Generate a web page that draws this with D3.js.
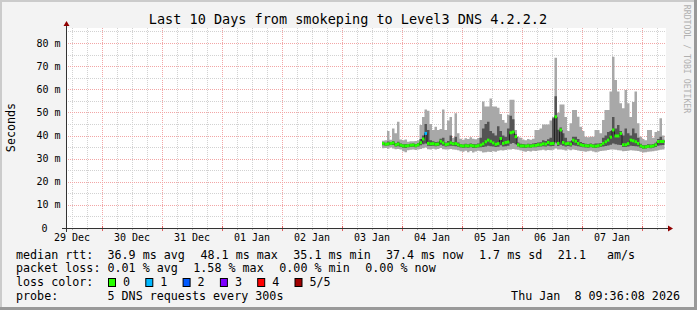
<!DOCTYPE html>
<html>
<head>
<meta charset="utf-8">
<script src="https://cdn.jsdelivr.net/npm/d3@7"></script>
<style>
  body { margin: 0; background: #f3f3f3; }
  svg text { font-family: "DejaVu Sans Mono", monospace; fill: #000; white-space: pre; }
</style>
</head>
<body>
<div id="chart"></div>
<script>
// smokeping style 10 day graph, one value per hour starting 03 Jan 16:00
var dataStart = Date.UTC(2026, 0, 3, 16, 0, 0);
var STEP = 3600 * 1000;

// ping values in ms, sorted: lowest, 2nd, median, 4th, highest
var pingMax = [37.7, 38.0, 42.0, 38.2, 43.0, 41.0, 46.0, 38.3, 38.0, 38.3,
  37.3, 37.5, 37.5, 37.6, 38.0, 44.5, 48.0, 51.3, 50.7, 45.0,
  42.4, 43.8, 42.4, 42.8, 51.3, 42.4, 46.5, 48.0, 39.0, 49.6,
  41.0, 38.6, 38.2, 38.8, 38.5, 39.2, 38.6, 38.4, 38.9, 46.7,
  54.7, 52.5, 52.5, 56.0, 52.5, 52.5, 52.0, 49.3, 46.7, 45.5,
  49.0, 55.5, 55.5, 42.4, 39.5, 39.0, 38.3, 38.0, 38.5, 38.2,
  38.6, 42.4, 42.4, 43.0, 44.8, 44.8, 44.8, 46.5, 48.0, 73.6,
  49.8, 53.4, 53.4, 48.0, 42.0, 45.3, 51.0, 51.0, 48.1, 43.8,
  42.0, 39.5, 39.3, 39.5, 39.5, 42.4, 42.4, 41.0, 46.7, 51.0,
  51.0, 59.0, 74.1, 64.0, 59.0, 54.0, 51.8, 59.7, 54.0, 48.0,
  54.5, 59.0, 45.3, 39.5, 38.5, 38.0, 42.4, 42.4, 39.0, 41.5,
  42.0, 47.5, 40.0];
var pingHi = [37.0, 36.9, 37.4, 37.2, 37.6, 36.8, 37.3, 36.5, 36.2, 36.3,
  36.2, 36.4, 36.6, 36.3, 36.8, 38.5, 40.0, 45.0, 42.4, 38.0,
  37.5, 37.2, 37.3, 38.6, 39.0, 37.0, 37.6, 40.0, 37.2, 39.5,
  37.0, 36.3, 36.1, 36.4, 36.2, 36.6, 36.3, 36.2, 36.5, 39.0,
  43.0, 45.0, 46.0, 42.0, 41.0, 40.0, 44.0, 42.0, 40.0, 39.5,
  43.0, 48.5, 47.0, 40.5, 37.0, 36.4, 36.3, 36.1, 36.4, 36.2,
  36.5, 36.8, 37.0, 37.1, 38.0, 37.6, 38.4, 39.0, 47.5, 57.0,
  42.5, 43.5, 41.0, 39.0, 37.4, 37.5, 39.5, 39.5, 38.5, 37.2,
  36.8, 36.4, 36.3, 36.5, 36.2, 36.5, 36.6, 36.8, 39.0, 40.0,
  41.5, 42.0, 48.0, 43.0, 44.5, 42.0, 40.0, 43.0, 41.0, 40.0,
  43.0, 41.0, 39.0, 36.4, 35.8, 35.9, 36.2, 36.1, 36.3, 36.9,
  38.5, 39.5, 38.2];
var median = [36.6, 36.2, 36.4, 36.6, 36.8, 36.0, 36.3, 35.8, 35.5, 35.5,
  35.6, 35.8, 35.9, 35.6, 36.0, 36.9, 38.5, 40.9, 36.6, 36.4,
  36.5, 36.2, 36.3, 37.5, 36.8, 36.1, 36.3, 36.8, 36.4, 36.5,
  36.0, 35.6, 35.4, 35.6, 35.5, 35.7, 35.5, 35.4, 35.6, 35.9,
  36.4, 37.3, 38.0, 37.5, 36.8, 36.2, 36.5, 38.7, 36.6, 37.0,
  37.2, 41.2, 41.5, 39.5, 36.0, 35.5, 35.5, 35.4, 35.6, 35.4,
  35.6, 35.7, 36.0, 36.0, 36.4, 36.3, 37.0, 36.5, 36.6, 48.1,
  36.6, 42.4, 37.0, 36.4, 36.6, 36.3, 38.0, 37.5, 36.6, 36.0,
  35.7, 35.6, 35.5, 35.7, 35.4, 35.4, 35.6, 35.9, 36.6, 37.3,
  38.0, 39.3, 42.4, 39.8, 39.8, 40.9, 36.0, 36.0, 36.5, 38.0,
  37.7, 37.3, 36.6, 35.5, 35.0, 35.1, 35.3, 35.3, 35.5, 36.0,
  37.4, 37.4, 37.4];
var pingLo = [35.8, 35.6, 35.7, 35.9, 35.9, 35.3, 35.4, 35.0, 34.7, 34.6,
  34.9, 35.0, 35.1, 34.9, 35.2, 35.8, 36.2, 36.5, 35.6, 35.5,
  35.6, 35.4, 35.5, 36.0, 35.6, 35.3, 35.4, 35.6, 35.5, 35.4,
  35.1, 34.8, 34.6, 34.8, 34.7, 34.9, 34.6, 34.6, 34.8, 34.9,
  35.0, 35.3, 35.6, 35.4, 35.2, 35.0, 35.1, 35.8, 35.3, 35.4,
  35.6, 36.4, 36.8, 36.2, 35.2, 34.8, 34.7, 34.6, 34.8, 34.7,
  34.9, 34.9, 35.1, 35.2, 35.4, 35.3, 35.6, 35.4, 35.5, 37.0,
  35.5, 36.0, 35.6, 35.3, 35.5, 35.3, 35.8, 35.6, 35.4, 35.1,
  34.9, 34.8, 34.7, 34.9, 34.7, 34.6, 34.8, 35.0, 35.3, 35.5,
  35.7, 36.0, 36.5, 36.2, 36.0, 35.9, 35.0, 35.0, 35.2, 35.6,
  35.5, 35.4, 35.2, 34.7, 34.3, 34.4, 34.6, 34.5, 34.7, 35.0,
  35.6, 35.8, 35.9];
var pingMin = [34.5, 34.6, 34.3, 34.8, 34.4, 34.1, 34.2, 33.9, 33.2, 32.8,
  33.6, 33.8, 34.0, 33.7, 34.0, 34.2, 34.5, 34.8, 34.1, 34.0,
  34.3, 34.0, 34.2, 34.6, 34.1, 33.9, 34.0, 34.2, 34.0, 33.8,
  33.6, 33.2, 33.0, 33.4, 32.8, 33.3, 32.6, 33.1, 33.4, 33.2,
  32.6, 32.8, 33.0, 32.9, 33.2, 33.0, 33.4, 33.6, 33.5, 33.7,
  33.9, 34.0, 34.2, 34.0, 33.8, 33.5, 33.2, 33.0, 33.3, 33.1,
  33.4, 33.3, 33.5, 33.6, 33.8, 33.5, 33.7, 33.6, 33.8, 34.4,
  33.9, 34.0, 33.8, 33.5, 33.9, 33.6, 33.9, 33.7, 33.5, 33.3,
  33.2, 33.0, 33.2, 33.4, 33.1, 32.8, 33.0, 33.3, 33.4, 33.5,
  33.7, 33.9, 34.0, 33.8, 33.6, 33.5, 33.2, 33.3, 33.4, 33.6,
  33.5, 33.4, 33.3, 33.0, 32.6, 32.8, 33.0, 33.1, 33.2, 33.4,
  33.6, 33.8, 34.0];
// lost pings (of 5) per hour
var lost = [0, 0, 0, 0, 0, 0, 0, 0, 0, 0, 0, 0, 0, 0, 0, 0, 0, 1, 0, 0,
  0, 0, 0, 0, 0, 0, 0, 0, 0, 0, 0, 0, 0, 0, 0, 0, 0, 0, 0, 0,
  0, 0, 0, 0, 0, 0, 0, 0, 0, 0, 0, 0, 0, 0, 0, 0, 0, 0, 0, 0,
  0, 0, 0, 0, 0, 0, 0, 0, 0, 0, 0, 0, 0, 0, 0, 0, 0, 0, 0, 0,
  0, 0, 0, 0, 0, 0, 0, 0, 0, 0, 0, 0, 0, 0, 0, 0, 0, 0, 0, 0,
  0, 0, 0, 0, 0, 0, 0, 0, 0, 0, 0, 0, 0];

var yTicks = [0, 10, 20, 30, 40, 50, 60, 70, 80];
var dayLabels = ["29 Dec", "30 Dec", "31 Dec", "01 Jan", "02 Jan", "03 Jan", "04 Jan", "05 Jan", "06 Jan", "07 Jan"];
var lossLabels = ["0", "1", "2", "3", "4", "5/5"];
var lossColors = ["#26ff00", "#00b8ff", "#0059ff", "#7e00ff", "#ff0000", "#a00000"];

var W = 697, H = 310;
var plotL = 66, plotR = 666, plotT = 28, plotB = 228;
var endTime = Date.UTC(2026, 0, 8, 9, 36, 8);
var startTime = endTime - 10 * 86400 * 1000;

var svg = d3.select("#chart").append("svg")
  .attr("width", W).attr("height", H);

// frame
svg.append("rect").attr("width", W).attr("height", H).attr("fill", "#f3f3f3");
svg.append("rect").attr("x", 0).attr("y", 0).attr("width", W).attr("height", 2).attr("fill", "#cbcbcb");
svg.append("rect").attr("x", 0).attr("y", 0).attr("width", 2).attr("height", H).attr("fill", "#cbcbcb");
svg.append("rect").attr("x", 0).attr("y", H - 3).attr("width", W).attr("height", 3).attr("fill", "#999");
svg.append("rect").attr("x", W - 3).attr("y", 0).attr("width", 3).attr("height", H).attr("fill", "#999");

svg.append("rect").attr("x", plotL).attr("y", plotT)
  .attr("width", plotR - plotL).attr("height", plotB - plotT).attr("fill", "#fff");

var x = d3.scaleUtc().domain([startTime, endTime]).range([plotL, plotR]);
var y = d3.scaleLinear().domain([0, 86.5]).range([plotB, plotT]);

// grid
var grid = svg.append("g");
var sixHours = d3.utcHour.every(6).range(new Date(startTime), new Date(endTime));
sixHours.forEach(function (d) {
  var major = d.getUTCHours() === 0;
  var xx = Math.round(x(d)) + 0.5;
  grid.append("line").attr("x1", xx).attr("x2", xx).attr("y1", plotT).attr("y2", plotB)
    .attr("stroke", major ? "#f2a6a6" : "#d2d2d2").attr("stroke-dasharray", "1,1");
  grid.append("line").attr("x1", xx).attr("x2", xx)
    .attr("y1", major ? plotB - 2 : plotB).attr("y2", plotB + (major ? 3 : 2))
    .attr("stroke", major ? "#e06060" : "#aaa");
});
d3.range(0, 86, 5).forEach(function (v) {
  if (v === 0) return;
  var yy = Math.round(y(v)) + 0.5;
  var major = v % 10 === 0;
  grid.append("line").attr("x1", plotL).attr("x2", plotR).attr("y1", yy).attr("y2", yy)
    .attr("stroke", major ? "#f2a6a6" : "#d2d2d2").attr("stroke-dasharray", "1,1");
});

// smoke
var rows = median.map(function (m, i) {
  return { t: dataStart + i * STEP, max: pingMax[i], hi: pingHi[i], med: m, lo: pingLo[i], min: pingMin[i], lost: lost[i] };
});
var stepRows = rows.concat([Object.assign({}, rows[rows.length - 1], { t: dataStart + rows.length * STEP })]);

svg.append("path").datum(stepRows)
  .attr("fill", "#a8a8a8")
  .attr("d", d3.area().curve(d3.curveStepAfter)
    .x(function (d) { return x(d.t); })
    .y0(function (d) { return y(d.min); })
    .y1(function (d) { return y(d.max); }));
svg.append("path").datum(stepRows)
  .attr("fill", "#545454")
  .attr("d", d3.area().curve(d3.curveStepAfter)
    .x(function (d) { return x(d.t); })
    .y0(function (d) { return y(d.lo); })
    .y1(function (d) { return y(d.hi); }));

// median, black step line with loss coloured segments on top
svg.append("path").datum(stepRows)
  .attr("fill", "none").attr("stroke", "#202020").attr("stroke-width", 1)
  .attr("d", d3.line().curve(d3.curveStepAfter)
    .x(function (d) { return x(d.t); })
    .y(function (d) { return y(d.med); }));
svg.append("g").selectAll("line").data(rows).join("line")
  .attr("x1", function (d) { return x(d.t); })
  .attr("x2", function (d) { return x(d.t + STEP); })
  .attr("y1", function (d) { return y(d.med); })
  .attr("y2", function (d) { return y(d.med); })
  .attr("stroke", function (d) { return lossColors[d.lost]; })
  .attr("stroke-width", 3);

// axes
svg.append("line").attr("x1", plotL - 4).attr("x2", plotR + 4).attr("y1", plotB + 0.5).attr("y2", plotB + 0.5)
  .attr("stroke", "#333");
svg.append("line").attr("x1", plotL + 0.5).attr("x2", plotL + 0.5).attr("y1", plotB + 4).attr("y2", plotT - 4)
  .attr("stroke", "#333");
svg.append("path").attr("d", "M" + (plotR + 2) + "," + (plotB - 2.5) + "L" + (plotR + 7) + "," + (plotB + 0.5) + "L" + (plotR + 2) + "," + (plotB + 3.5) + "Z")
  .attr("fill", "#900000");
svg.append("path").attr("d", "M" + (plotL - 2.5) + "," + (plotT - 2) + "L" + (plotL + 0.5) + "," + (plotT - 7) + "L" + (plotL + 3.5) + "," + (plotT - 2) + "Z")
  .attr("fill", "#900000");

// y labels
svg.append("g").selectAll("text").data(yTicks).join("text")
  .attr("x", function (d) { return d === 0 ? 47.5 : 60.5; })
  .attr("y", function (d) { return y(d) + 3.5; })
  .attr("text-anchor", "end")
  .style("font-size", "10px")
  .text(function (d) { return d === 0 ? "0" : d + " m"; });

// x labels, centered at noon
svg.append("g").selectAll("text").data(dayLabels).join("text")
  .attr("x", function (d, i) { return x(Date.UTC(2025, 11, 29 + i, 12)); })
  .attr("y", 241)
  .attr("text-anchor", "middle")
  .style("font-size", "10px")
  .text(function (d) { return d; });

svg.append("text")
  .attr("transform", "translate(14.5,127.5) rotate(-90)")
  .attr("text-anchor", "middle")
  .style("font-size", "11.7px")
  .text("Seconds");

svg.append("text")
  .attr("x", 348).attr("y", 23.5)
  .attr("text-anchor", "middle")
  .style("font-size", "13.5px")
  .text("Last 10 Days from smokeping to Level3 DNS 4.2.2.2");

svg.append("text")
  .attr("transform", "translate(684,59) rotate(90)")
  .attr("text-anchor", "middle")
  .style("font-size", "8.2px")
  .style("fill", "#b0b0b0")
  .text("RRDTOOL / TOBI OETIKER");

// legend
var legend = svg.append("g").style("font-size", "11.7px");
function put(tx, ty, s) {
  legend.append("text").attr("x", tx).attr("y", ty).text(s);
}
put(16, 258.5, "median rtt:");
put(107.5, 258.5, "36.9 ms avg");
put(200.5, 258.5, "48.1 ms max");
put(293.3, 258.5, "35.1 ms min");
put(386, 258.5, "37.4 ms now");
put(479, 258.5, "1.7 ms sd");
put(557.8, 258.5, "21.1");
put(607, 258.5, "am/s");

put(16, 272.2, "packet loss:");
put(107.5, 272.2, "0.01 % avg");
put(193.3, 272.2, "1.58 % max");
put(279.3, 272.2, "0.00 % min");
put(365.3, 272.2, "0.00 % now");

put(16, 285.9, "loss color:");
lossLabels.forEach(function (l, i) {
  var bx = 108 + i * 37.3;
  legend.append("rect").attr("x", bx + 0.5).attr("y", 278.5).attr("width", 7).attr("height", 8)
    .attr("fill", lossColors[i]).attr("stroke", "#000");
  put(bx + 15, 285.9, l);
});

put(16, 299.6, "probe:");
put(107.5, 299.6, "5 DNS requests every 300s");
legend.append("text").attr("x", 680).attr("y", 299.6).attr("text-anchor", "end")
  .text("Thu Jan  8 09:36:08 2026");
</script>
</body>
</html>
